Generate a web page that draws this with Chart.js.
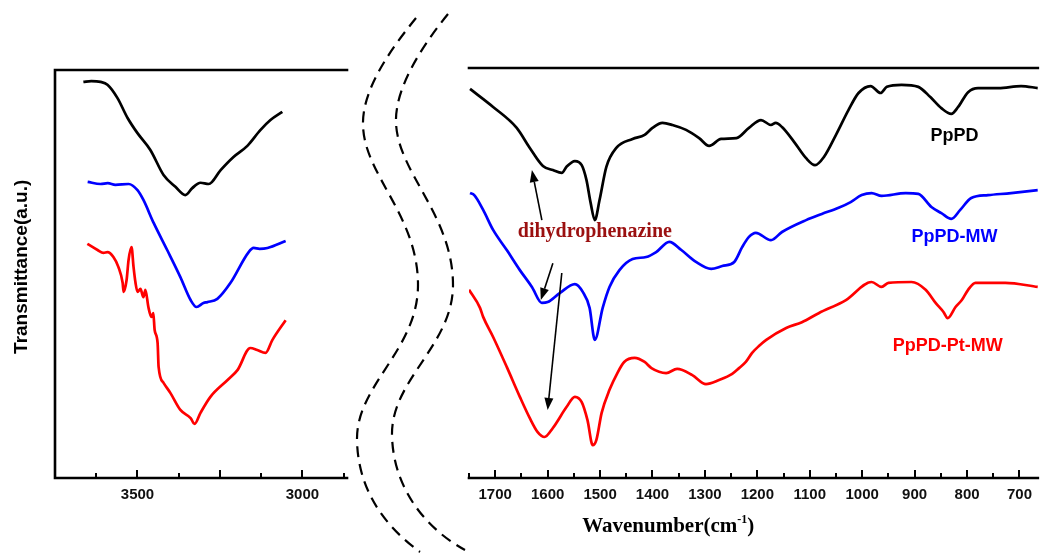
<!DOCTYPE html>
<html>
<head>
<meta charset="utf-8">
<title>FTIR spectra - PpPD samples</title>
<script src="https://cdn.jsdelivr.net/npm/chart.js@4.4.1/dist/chart.umd.min.js"></script>
<style>
  html, body { margin: 0; padding: 0; background: #fff; }
  #wrap { position: relative; width: 1040px; height: 553px; overflow: hidden; }
  #wrap canvas, #wrap svg { position: absolute; left: 0; top: 0; }
</style>
</head>
<body>
<div id="wrap">
  <canvas id="hiChart" width="1040" height="553"></canvas>
  <canvas id="loChart" width="1040" height="553"></canvas>
  <!-- axis break marks between the two wavenumber ranges -->
  <svg width="1040" height="553">
    <g fill="none" stroke="#000" stroke-width="2.2" stroke-dasharray="11 7">
      <path d="M416,18 C390,50 362,90 363,125 C364,175 418,215 418,285 C418,350 356,385 357,440 C358,495 390,530 420,552"/>
      <path d="M448,14 C422,46 395,88 396,122 C397,172 453,215 453,285 C453,345 391,380 392,435 C393,490 428,530 465,550"/>
    </g>
  </svg>
</div>
<script>
// ---------------------------------------------------------------------------
// High wavenumber range (N-H / O-H stretching), cm-1 vs transmittance (a.u.)
// ---------------------------------------------------------------------------
const hiWnPpPD = [3664, 3640, 3612, 3591, 3561, 3530, 3500, 3461, 3421, 3385, 3355, 3334, 3309, 3284,
                  3248, 3209, 3167, 3127, 3097, 3061];
const hiTPpPD  = [96.6, 96.8, 96.6, 95.9, 92.7, 87.8, 84.1, 80.0, 73.9, 71.0, 69.0, 70.7, 72.0, 71.7,
                  75.1, 78.3, 81.0, 84.9, 87.3, 89.3];

const hiWnMW = [3651, 3612, 3590, 3567, 3527, 3500, 3482, 3451, 3410, 3370, 3339, 3321, 3300, 3288,
                3258, 3218, 3163, 3148, 3130, 3106, 3051];
const hiTMW  = [72.2, 71.7, 71.9, 71.5, 71.7, 70.2, 67.8, 62.2, 55.6, 49.0, 43.4, 41.7, 42.7, 42.9,
                43.7, 47.6, 55.1, 56.1, 55.9, 56.1, 57.8];

const hiWnPtMW = [3652, 3621, 3603, 3591, 3573, 3558, 3545, 3542, 3533, 3527, 3518, 3512, 3506, 3500,
                  3491, 3482, 3476, 3467, 3458, 3452, 3448, 3439, 3436, 3421, 3400, 3370, 3339, 3327,
                  3309, 3279, 3227, 3197, 3158, 3137, 3112, 3091, 3051];
const hiTPtMW  = [57.1, 55.6, 54.9, 55.1, 53.9, 51.5, 47.6, 45.4, 48.3, 53.2, 56.3, 51.5, 47.6, 45.4,
                  46.1, 44.1, 45.9, 41.7, 39.3, 40.2, 36.1, 32.9, 27.1, 23.2, 20.7, 16.6, 14.6, 13.2,
                  15.9, 19.8, 23.9, 26.3, 31.7, 31.2, 30.5, 33.7, 38.5];

const hiTicks  = [3750, 3625, 3500, 3375, 3250, 3125, 3000, 2875];
const hiLabels = ['', '', '3500', '', '', '', '3000', ''];
const hiMajor  = [3750, 3500, 3250, 3000];

// ---------------------------------------------------------------------------
// Fingerprint range 1750-665 cm-1
// ---------------------------------------------------------------------------
const loWnPpPD = [1748, 1704, 1659, 1634, 1609, 1590, 1573, 1564, 1548, 1535, 1526, 1518, 1510, 1501,
                  1488, 1469, 1438, 1415, 1400, 1381, 1362, 1336, 1311, 1292, 1269, 1240, 1216, 1193,
                  1174, 1165, 1153, 1130, 1107, 1090, 1073, 1050, 1026, 1007, 984, 965, 953, 925,
                  893, 870, 849, 830, 817, 798, 779, 740, 697, 665];
const loTPpPD  = [94.9, 90.5, 85.4, 80.5, 76.1, 75.1, 74.4, 75.9, 77.3, 76.3, 72.7, 67.1, 62.9, 67.8,
                  75.9, 80.5, 82.7, 83.7, 85.4, 86.6, 86.1, 84.9, 82.9, 81.0, 82.7, 82.9, 85.4, 87.3,
                  86.1, 86.6, 85.6, 82.0, 78.0, 76.3, 78.3, 83.7, 89.8, 93.9, 95.6, 93.9, 95.4, 95.9,
                  95.4, 92.9, 90.2, 88.8, 90.5, 94.1, 95.1, 95.1, 95.6, 95.1];

const loWnMW = [1748, 1740, 1723, 1704, 1678, 1653, 1630, 1611, 1600, 1577, 1548, 1533, 1520, 1510,
                1495, 1482, 1463, 1438, 1412, 1393, 1368, 1345, 1317, 1288, 1267, 1244, 1229, 1216,
                1203, 1174, 1153, 1107, 1077, 1045, 1022, 1001, 982, 963, 917, 893, 868, 849,
                830, 813, 792, 760, 716, 665];
const loTMW  = [69.5, 69.0, 65.4, 60.5, 55.6, 50.7, 46.6, 42.7, 42.9, 45.1, 47.3, 45.4, 41.5, 33.7,
                41.5, 46.6, 50.7, 53.4, 53.9, 55.1, 57.6, 55.6, 52.7, 51.0, 51.7, 52.7, 56.3, 58.8,
                59.8, 58.0, 60.0, 62.9, 64.4, 65.9, 67.3, 69.0, 69.5, 68.8, 69.5, 69.3, 66.1, 64.6,
                63.2, 65.4, 68.3, 69.0, 69.5, 70.2];

const loWnPtMW = [1750, 1729, 1723, 1704, 1678, 1653, 1634, 1619, 1606, 1590, 1564, 1548, 1535, 1524,
                  1514, 1507, 1497, 1482, 1467, 1454, 1434, 1415, 1402, 1374, 1353, 1324, 1298, 1273,
                  1248, 1235, 1222, 1210, 1197, 1183, 1145, 1115, 1083, 1031, 982, 963, 950, 906,
                  879, 860, 845, 837, 822, 810, 798, 784, 727, 665];
const loTPtMW  = [45.9, 41.5, 39.3, 34.4, 27.1, 19.8, 14.6, 11.2, 10.0, 12.2, 17.3, 19.8, 18.5, 14.1,
                  8.0, 9.3, 15.9, 21.5, 25.6, 28.3, 29.3, 28.3, 26.8, 25.6, 26.6, 25.1, 22.9, 23.9,
                  25.4, 26.8, 28.3, 30.5, 32.2, 33.7, 36.6, 38.0, 40.2, 43.4, 47.8, 46.6, 47.6, 47.8,
                  45.9, 42.7, 40.5, 39.0, 41.7, 43.4, 45.9, 47.6, 47.6, 46.6];

const loTicks  = [1750, 1700, 1650, 1600, 1550, 1500, 1450, 1400, 1350, 1300, 1250, 1200, 1150, 1100,
                  1050, 1000, 950, 900, 850, 800, 750, 700];
const loLabels = ['', '1700', '', '1600', '', '1500', '', '1400', '', '1300', '', '1200', '', '1100',
                  '', '1000', '', '900', '', '800', '', '700'];
const loMajor  = [1700, 1600, 1500, 1400, 1300, 1200, 1100, 1000, 900, 800, 700];

const sampleNames  = ['PpPD', 'PpPD-MW', 'PpPD-Pt-MW'];
const sampleColors = ['#000000', '#0000ff', '#ff0000'];

const SANS = 'Arial, "Liberation Sans", sans-serif';
const SERIF = '"Times New Roman", "Liberation Serif", serif';

// Draws the frame lines and the inward tick marks on the bottom axis
const axisFrame = {
  id: 'axisFrame',
  afterDraw(chart, args, opts) {
    const { ctx, chartArea: a } = chart;
    const xs = chart.scales.x;
    ctx.save();
    ctx.strokeStyle = '#000';
    ctx.lineWidth = 2.6;
    ctx.lineCap = 'square';
    ctx.beginPath();
    if (opts.sides.includes('top')) { ctx.moveTo(a.left, a.top); ctx.lineTo(a.right, a.top); }
    if (opts.sides.includes('left')) { ctx.moveTo(a.left, a.top); ctx.lineTo(a.left, a.bottom); }
    ctx.moveTo(a.left, a.bottom); ctx.lineTo(a.right, a.bottom);
    ctx.stroke();
    ctx.lineWidth = 2;
    ctx.lineCap = 'butt';
    ctx.beginPath();
    opts.ticks.forEach(v => {
      const x = Math.round(xs.getPixelForValue(v));
      const len = opts.major.includes(v) ? 8 : 5;
      ctx.moveTo(x, a.bottom);
      ctx.lineTo(x, a.bottom - len);
    });
    ctx.stroke();
    ctx.restore();
  }
};

// Free text, arrows and axis titles placed in data units
const notes = {
  id: 'notes',
  afterDraw(chart, args, opts) {
    const { ctx, chartArea: a } = chart;
    const xs = chart.scales.x, ys = chart.scales.y;
    ctx.save();
    (opts.texts || []).forEach(t => {
      ctx.font = t.font;
      ctx.fillStyle = t.color;
      ctx.textAlign = 'center';
      ctx.textBaseline = 'middle';
      ctx.fillText(t.text, xs.getPixelForValue(t.x), ys.getPixelForValue(t.y));
    });
    (opts.arrows || []).forEach(ar => {
      const x0 = xs.getPixelForValue(ar.from[0]), y0 = ys.getPixelForValue(ar.from[1]);
      const x1 = xs.getPixelForValue(ar.to[0]), y1 = ys.getPixelForValue(ar.to[1]);
      const ang = Math.atan2(y1 - y0, x1 - x0);
      const hl = 12, hw = 4.5;
      const bx = x1 - hl * Math.cos(ang), by = y1 - hl * Math.sin(ang);
      ctx.strokeStyle = '#000';
      ctx.fillStyle = '#000';
      ctx.lineWidth = 1.6;
      ctx.beginPath();
      ctx.moveTo(x0, y0);
      ctx.lineTo(bx, by);
      ctx.stroke();
      ctx.beginPath();
      ctx.moveTo(x1, y1);
      ctx.lineTo(bx + hw * Math.sin(ang), by - hw * Math.cos(ang));
      ctx.lineTo(bx - hw * Math.sin(ang), by + hw * Math.cos(ang));
      ctx.closePath();
      ctx.fill();
    });
    if (opts.yTitle) {
      ctx.translate(a.left - 33, ys.getPixelForValue(opts.yTitle.y));
      ctx.rotate(-Math.PI / 2);
      ctx.font = 'bold 19px ' + SANS;
      ctx.fillStyle = '#000';
      ctx.textAlign = 'center';
      ctx.textBaseline = 'middle';
      ctx.fillText(opts.yTitle.text, 0, 0);
      ctx.setTransform(1, 0, 0, 1, 0, 0);
    }
    if (opts.xTitle) {
      // "Wavenumber(cm" + superscript "-1" + ")"
      const main = 'bold 21px ' + SERIF, sup = 'bold 12px ' + SERIF;
      const cx = xs.getPixelForValue(opts.xTitle.x), base = a.bottom + 54;
      ctx.font = main; const w1 = ctx.measureText('Wavenumber(cm').width, w3 = ctx.measureText(')').width;
      ctx.font = sup;  const w2 = ctx.measureText('-1').width;
      let x = cx - (w1 + w2 + w3) / 2;
      ctx.fillStyle = '#000';
      ctx.textAlign = 'left';
      ctx.textBaseline = 'alphabetic';
      ctx.font = main; ctx.fillText('Wavenumber(cm', x, base); x += w1;
      ctx.font = sup;  ctx.fillText('-1', x, base - 9); x += w2;
      ctx.font = main; ctx.fillText(')', x, base);
    }
    ctx.restore();
  }
};

function spectrumChart(id, cfg) {
  return new Chart(document.getElementById(id), {
    type: 'line',
    data: {
      datasets: cfg.series.map((s, i) => ({
        label: sampleNames[i],
        data: s[0].map((w, k) => ({ x: w, y: s[1][k] })),
        borderColor: sampleColors[i],
        borderWidth: 2.7,
        pointRadius: 0,
        fill: false,
        cubicInterpolationMode: 'monotone'
      }))
    },
    options: {
      responsive: false,
      animation: false,
      events: [],
      layout: { padding: cfg.padding },
      plugins: {
        legend: { display: false },
        tooltip: { enabled: false },
        axisFrame: { sides: cfg.sides, ticks: cfg.ticks, major: cfg.major },
        notes: cfg.notes
      },
      scales: {
        x: {
          type: 'linear',
          reverse: true,
          min: cfg.min,
          max: cfg.max,
          grid: { display: false, drawTicks: false },
          border: { display: false },
          afterBuildTicks: sc => { sc.ticks = cfg.ticks.map(v => ({ value: v })); },
          afterFit: sc => { sc.height = 75; },
          ticks: {
            autoSkip: false,
            maxRotation: 0,
            minRotation: 0,
            padding: 8,
            color: '#111',
            font: { family: SANS, size: 15, weight: 'bold' },
            callback: (v, i) => cfg.labels[i]
          }
        },
        y: { display: false, min: 0, max: cfg.yMax }
      }
    },
    plugins: [axisFrame, notes]
  });
}

// 3750-2865 cm-1
spectrumChart('hiChart', {
  series: [[hiWnPpPD, hiTPpPD], [hiWnMW, hiTMW], [hiWnPtMW, hiTPtMW]],
  min: 2865, max: 3750, yMax: 99.5,
  padding: { left: 55, right: 693, top: 70, bottom: 0 },
  sides: ['top', 'left'],
  ticks: hiTicks, labels: hiLabels, major: hiMajor,
  notes: { yTitle: { text: 'Transmittance(a.u.)', y: 51.5 } }
});

// 1750-665 cm-1
spectrumChart('loChart', {
  series: [[loWnPpPD, loTPpPD], [loWnMW, loTMW], [loWnPtMW, loTPtMW]],
  min: 665, max: 1750, yMax: 100,
  padding: { left: 469, right: 0, top: 68, bottom: 0 },
  sides: ['top'],
  ticks: loTicks, labels: loLabels, major: loMajor,
  notes: {
    texts: [
      { text: sampleNames[0], x: 824, y: 83.4, color: '#000', font: 'bold 18px ' + SANS },
      { text: sampleNames[1], x: 824, y: 58.8, color: '#0000ff', font: 'bold 18px ' + SANS },
      { text: sampleNames[2], x: 837, y: 32.2, color: '#ff0000', font: 'bold 18px ' + SANS },
      { text: 'dihydrophenazine', x: 1510, y: 60, color: '#9b1010', font: 'bold 20px ' + SERIF }
    ],
    arrows: [
      { from: [1611, 62.9], to: [1630, 75.1] },
      { from: [1590, 52.4], to: [1613, 43.4] },
      { from: [1573, 50.0], to: [1600, 16.6] }
    ],
    xTitle: { x: 1370 }
  }
});
</script>
</body>
</html>
